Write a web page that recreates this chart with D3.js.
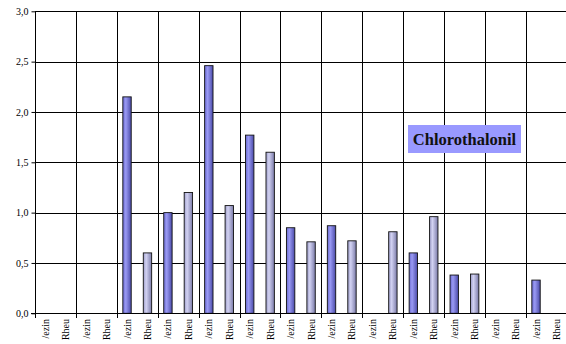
<!DOCTYPE html>
<html>
<head>
<meta charset="utf-8">
<script src="https://cdn.jsdelivr.net/npm/d3@7"></script>
<style>
  html, body { margin: 0; padding: 0; background: #fff; }
  svg { display: block; }
</style>
</head>
<body>
<svg id="chart" width="566" height="344"></svg>
<script>
// Categories alternate between the two sites
const categories = ["/ezin","Rheu","/ezin","Rheu","/ezin","Rheu","/ezin","Rheu","/ezin","Rheu","/ezin","Rheu","/ezin","Rheu","/ezin","Rheu","/ezin","Rheu","/ezin","Rheu","/ezin","Rheu","/ezin","Rheu","/ezin","Rheu"];
// Measured concentration per category (null = no value)
const values = [null,null,null,null,2.15,0.60,1.00,1.20,2.46,1.07,1.77,1.60,0.85,0.71,0.87,0.72,null,0.81,0.60,0.96,0.38,0.39,null,null,0.33,null];
const yTicks = [0,0.5,1.0,1.5,2.0,2.5,3.0];
const title = "Chlorothalonil";

(function () {
  const FONT = "Liberation Serif";
  const svg = d3.select("#chart");
  const mLeft = 35, mRight = 566.7, mTop = 11.3, mBottom = 313.3;

  const x = d3.scaleBand().domain(d3.range(categories.length)).range([mLeft, mRight]).padding(0);
  const y = d3.scaleLinear().domain([0, 3]).range([mBottom, mTop]);

  const defs = svg.append("defs");
  function grad(id, stops) {
    const g = defs.append("linearGradient").attr("id", id).attr("x1", "0%").attr("x2", "100%").attr("y1", "0%").attr("y2", "0%");
    stops.forEach(([o, c]) => g.append("stop").attr("offset", o).attr("stop-color", c));
  }
  grad("gEzin", [["0%", "#6a6ad0"], ["35%", "#9a9af4"], ["100%", "#4a4aa8"]]);
  grad("gRheu", [["0%", "#9c9cc8"], ["35%", "#d2d2f2"], ["100%", "#7a7aa8"]]);

  // Horizontal grid lines
  svg.append("g").selectAll("line").data(yTicks.slice(1)).join("line")
    .attr("x1", mLeft).attr("x2", 566)
    .attr("y1", d => Math.round(y(d)) + 0.5).attr("y2", d => Math.round(y(d)) + 0.5)
    .attr("stroke", "#000").attr("stroke-width", 1);

  // Vertical grid lines between pairs
  const pairEdges = d3.range(2, categories.length, 2);
  svg.append("g").selectAll("line").data(pairEdges).join("line")
    .attr("x1", d => Math.round(x(d)) + 0.5).attr("x2", d => Math.round(x(d)) + 0.5)
    .attr("y1", mTop).attr("y2", mBottom)
    .attr("stroke", "#000").attr("stroke-width", 1);

  // Bars
  const bw = x.bandwidth() * 0.41;
  svg.append("g").selectAll("rect")
    .data(values.map((v, i) => ({ v, i })).filter(d => d.v !== null))
    .join("rect")
    .attr("x", d => x(d.i) + (x.bandwidth() - bw) / 2)
    .attr("y", d => y(d.v))
    .attr("width", bw)
    .attr("height", d => y(0) - y(d.v))
    .attr("fill", d => d.i % 2 === 0 ? "url(#gEzin)" : "url(#gRheu)")
    .attr("stroke", "#111").attr("stroke-width", 0.9);

  // Y axis
  const yAxis = d3.axisLeft(y).tickValues(yTicks).tickSize(4).tickPadding(3)
    .tickFormat(d => d3.format(".1f")(d).replace(".", ","));
  const ya = svg.append("g").attr("transform", `translate(${mLeft + 0.5},0)`).call(yAxis);
  ya.attr("font-family", FONT).attr("font-size", 10);
  ya.selectAll("text").attr("font-family", FONT).attr("font-size", 10).attr("fill", "#000");
  ya.selectAll("line, path").attr("stroke", "#000");
  ya.select("path").attr("d", `M0,${mTop}V${mBottom}`);

  // X axis line with ticks at pair boundaries
  const xa = svg.append("g");
  xa.append("line").attr("x1", mLeft - 4).attr("x2", 566).attr("y1", Math.round(y(0)) + 0.5).attr("y2", Math.round(y(0)) + 0.5).attr("stroke", "#000");
  xa.selectAll("line.tk").data(d3.range(0, categories.length, 2)).join("line").attr("class", "tk")
    .attr("x1", d => Math.round(x(d)) + 0.5).attr("x2", d => Math.round(x(d)) + 0.5)
    .attr("y1", Math.round(y(0))).attr("y2", Math.round(y(0)) + 5).attr("stroke", "#000");

  // Category labels, rotated
  svg.append("g").selectAll("text").data(categories).join("text")
    .attr("transform", (d, i) => `translate(${x(i) + x.bandwidth() / 2 + 3.5},319) rotate(-90)`)
    .attr("text-anchor", "end")
    .attr("font-family", FONT).attr("font-size", 10)
    .attr("fill", "#000")
    .text(d => d);

  // Compound label box
  const lbl = svg.append("g");
  lbl.append("rect").attr("x", 408).attr("y", 125).attr("width", 113).attr("height", 28).attr("fill", "#9999ff");
  lbl.append("text").attr("x", 464.5).attr("y", 145).attr("text-anchor", "middle")
    .attr("font-family", FONT).attr("font-weight", "bold").attr("font-size", 16.5)
    .attr("fill", "#111").text(title);
})();
</script>
</body>
</html>
